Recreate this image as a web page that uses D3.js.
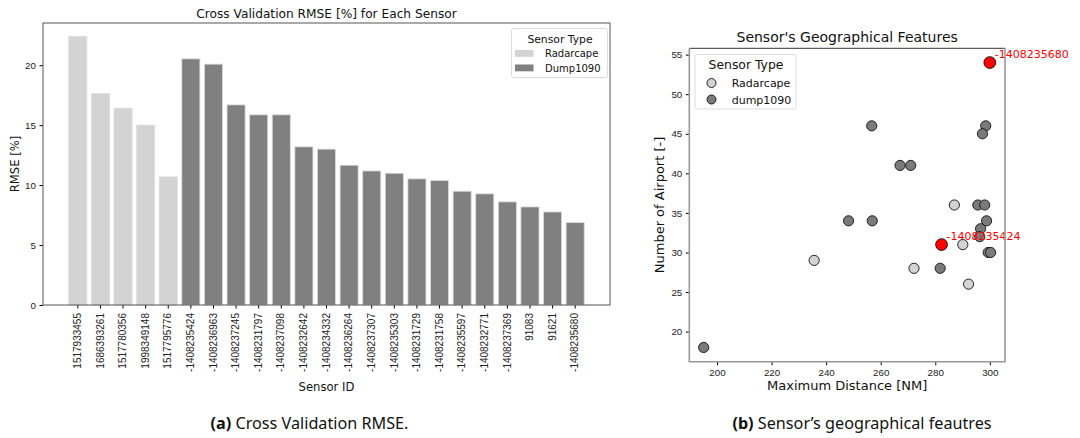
<!DOCTYPE html>
<html>
<head>
<meta charset="utf-8">
<script src="https://cdn.jsdelivr.net/npm/d3@7.9.0/dist/d3.min.js"></script>
<style>
  body { margin: 0; background: #fff; }
  svg { display: block; font-family: "DejaVu Sans", sans-serif; }
  .caption { font-family: "Noto Sans", sans-serif; }
</style>
</head>
<body>
<svg id="fig" width="1080" height="438"></svg>
<script>
// ---- bar chart data ----
const sensorIds = ['1517933455', '1686393261', '1517780356', '1998349148', '1517795776',
  '-1408235424', '-1408236963', '-1408237245', '-1408231797', '-1408237098', '-1408232642',
  '-1408234332', '-1408236264', '-1408237307', '-1408235303', '-1408231729', '-1408231758',
  '-1408235597', '-1408232771', '-1408237369', '91083', '91621', '-1408235680'];
const rmse = [22.4, 17.64, 16.42, 15.0, 10.68, 20.53, 20.09, 16.69, 15.86, 15.86, 13.19,
  13.0, 11.66, 11.18, 10.99, 10.52, 10.38, 9.49, 9.27, 8.6, 8.18, 7.76, 6.87];
const barType = ['Radarcape', 'Radarcape', 'Radarcape', 'Radarcape', 'Radarcape',
  'Dump1090', 'Dump1090', 'Dump1090', 'Dump1090', 'Dump1090', 'Dump1090', 'Dump1090',
  'Dump1090', 'Dump1090', 'Dump1090', 'Dump1090', 'Dump1090', 'Dump1090', 'Dump1090',
  'Dump1090', 'Dump1090', 'Dump1090', 'Dump1090'];
const rmseTicks = [0, 5, 10, 15, 20];

// ---- scatter data ----
const maxDistance = [300.0, 256.7, 298.5, 297.3, 267.1, 271.0, 295.6, 298.1, 248.2, 256.9,
  298.8, 296.6, 296.3, 282.3, 299.4, 300.3, 281.8, 195.1,
  287.0, 290.1, 235.6, 272.2, 292.2];
const numAirports = [54, 46, 46, 45, 41, 41, 36, 36, 34, 34, 34, 33, 32, 31, 30, 30, 28, 18,
  36, 31, 29, 28, 26];
const pointType = ['dump1090', 'dump1090', 'dump1090', 'dump1090', 'dump1090', 'dump1090',
  'dump1090', 'dump1090', 'dump1090', 'dump1090', 'dump1090', 'dump1090', 'dump1090',
  'dump1090', 'dump1090', 'dump1090', 'dump1090', 'dump1090',
  'Radarcape', 'Radarcape', 'Radarcape', 'Radarcape', 'Radarcape'];
const pointLabel = ['-1408235680', '', '', '', '', '', '', '', '', '', '', '', '',
  '-1408235424', '', '', '', '', '', '', '', '', ''];
const distTicks = [200, 220, 240, 260, 280, 300];
const airportTicks = [20, 25, 30, 35, 40, 45, 50, 55];

const light = '#d3d3d3', dark = '#808080';
const svg = d3.select('#fig');

// ================= (a) bar chart =================
{
  const left = 43, right = 610, top = 23, bottom = 305;
  const x = d3.scaleBand().domain(sensorIds).range([left, right])
    .paddingInner(0.2).paddingOuter(1.14);
  const y = d3.scaleLinear().domain([0, d3.max(rmse) * 1.05]).range([bottom, top]);
  const g = svg.append('g');

  g.selectAll('rect.bar')
    .data(sensorIds)
    .join('rect')
    .attr('class', 'bar')
    .attr('x', d => x(d))
    .attr('width', x.bandwidth())
    .attr('y', (d, i) => y(rmse[i]))
    .attr('height', (d, i) => y(0) - y(rmse[i]))
    .attr('fill', (d, i) => barType[i] === 'Radarcape' ? light : dark)
    .attr('stroke', '#dcdcdc')
    .attr('stroke-width', 0.8);

  g.append('g')
    .attr('transform', `translate(0,${bottom})`)
    .call(d3.axisBottom(x).tickSize(3.5).tickPadding(3).tickSizeOuter(0))
    .call(a => a.select('.domain').remove())
    .selectAll('text')
    .attr('font-size', 10)
    .attr('fill', '#222')
    .attr('transform', 'rotate(-90)')
    .attr('text-anchor', 'end')
    .attr('x', -8)
    .attr('y', 0)
    .attr('dy', '0.32em');

  g.append('g')
    .attr('transform', `translate(${left},0)`)
    .call(d3.axisLeft(y).tickValues(rmseTicks).tickSize(3.5).tickPadding(3.5))
    .call(a => a.select('.domain').remove())
    .selectAll('text').attr('font-size', 9.8).attr('fill', '#222');

  g.append('rect')
    .attr('x', left).attr('y', top)
    .attr('width', right - left).attr('height', bottom - top)
    .attr('fill', 'none').attr('stroke', '#555').attr('stroke-width', 1);

  g.append('text')
    .attr('x', (left + right) / 2).attr('y', 18)
    .attr('text-anchor', 'middle').attr('font-size', 12.2).attr('fill', '#111')
    .text('Cross Validation RMSE [%] for Each Sensor');
  g.append('text')
    .attr('x', 326.5).attr('y', 391)
    .attr('text-anchor', 'middle').attr('font-size', 11.6).attr('fill', '#111')
    .text('Sensor ID');
  g.append('text')
    .attr('transform', `translate(18.5,${(top + bottom) / 2}) rotate(-90)`)
    .attr('text-anchor', 'middle').attr('font-size', 11.6).attr('fill', '#111')
    .text('RMSE [%]');

  // legend
  const lg = g.append('g');
  lg.append('rect')
    .attr('x', 511.5).attr('y', 28.5).attr('width', 96).attr('height', 49).attr('rx', 2)
    .attr('fill', '#fff').attr('stroke', '#ddd');
  lg.append('text')
    .attr('x', 560).attr('y', 43).attr('text-anchor', 'middle')
    .attr('font-size', 10.8).attr('fill', '#111').text('Sensor Type');
  ['Radarcape', 'Dump1090'].forEach((t, i) => {
    lg.append('rect')
      .attr('x', 515).attr('y', 50 + i * 14.5).attr('width', 18.5).attr('height', 6.8)
      .attr('fill', i === 0 ? light : dark);
    lg.append('text')
      .attr('x', 545).attr('y', 57 + i * 14.5)
      .attr('font-size', 10).attr('fill', '#111').text(t);
  });
}

// ================= (b) scatter =================
{
  const left = 689.3, right = 1005, top = 48.3, bottom = 361.7;
  const [xmin, xmax] = d3.extent(maxDistance);
  const [ymin, ymax] = d3.extent(numAirports);
  const mx = (xmax - xmin) * 0.05, my = (ymax - ymin) * 0.05;
  const x = d3.scaleLinear().domain([xmin - mx, xmax + mx]).range([left, right]);
  const y = d3.scaleLinear().domain([ymin - my, ymax + my]).range([bottom, top]);
  const g = svg.append('g');

  g.append('g')
    .attr('transform', `translate(0,${bottom})`)
    .call(d3.axisBottom(x).tickValues(distTicks).tickSize(3.5).tickPadding(3.5))
    .call(a => a.select('.domain').remove())
    .selectAll('text').attr('font-size', 9.8).attr('fill', '#222');
  g.append('g')
    .attr('transform', `translate(${left},0)`)
    .call(d3.axisLeft(y).tickValues(airportTicks).tickSize(3.5).tickPadding(3.5))
    .call(a => a.select('.domain').remove())
    .selectAll('text').attr('font-size', 9.8).attr('fill', '#222');

  const idx = d3.range(maxDistance.length);
  const order = idx.filter(i => !pointLabel[i]).concat(idx.filter(i => pointLabel[i]));
  g.selectAll('circle.pt')
    .data(order)
    .join('circle')
    .attr('class', 'pt')
    .attr('cx', i => x(maxDistance[i]))
    .attr('cy', i => y(numAirports[i]))
    .attr('r', i => pointLabel[i] ? 5.9 : 5.1)
    .attr('fill', i => pointLabel[i] ? '#ff0000' : (pointType[i] === 'Radarcape' ? light : '#7a7a7a'))
    .attr('stroke', '#111')
    .attr('stroke-width', 0.9);

  g.selectAll('text.lbl')
    .data(idx.filter(i => pointLabel[i]))
    .join('text')
    .attr('class', 'lbl')
    .attr('x', i => x(maxDistance[i]) + 5)
    .attr('y', i => y(numAirports[i]) - 4.3)
    .attr('font-size', 11).attr('fill', '#ff0000')
    .text(i => pointLabel[i]);

  // spines
  g.append('line').attr('x1', left).attr('x2', right).attr('y1', top).attr('y2', top)
    .attr('stroke', '#333').attr('stroke-width', 1);
  g.append('path')
    .attr('d', `M${right},${top}V${bottom}H${left}V${top}`)
    .attr('fill', 'none').attr('stroke', '#999').attr('stroke-width', 1.6);

  g.append('text')
    .attr('x', (left + right) / 2).attr('y', 41.5)
    .attr('text-anchor', 'middle').attr('font-size', 14).attr('fill', '#111')
    .text("Sensor's Geographical Features");
  g.append('text')
    .attr('x', (left + right) / 2).attr('y', 390)
    .attr('text-anchor', 'middle').attr('font-size', 13).attr('fill', '#111')
    .text('Maximum Distance [NM]');
  g.append('text')
    .attr('transform', `translate(663.5,${(top + bottom) / 2}) rotate(-90)`)
    .attr('text-anchor', 'middle').attr('font-size', 13).attr('fill', '#111')
    .text('Number of Airport [-]');

  // legend
  const lg = g.append('g');
  lg.append('rect')
    .attr('x', 695).attr('y', 54.5).attr('width', 101).attr('height', 54.5).attr('rx', 2)
    .attr('fill', '#fff').attr('stroke', '#ddd');
  lg.append('text')
    .attr('x', 746).attr('y', 69).attr('text-anchor', 'middle')
    .attr('font-size', 12.4).attr('fill', '#111').text('Sensor Type');
  ['Radarcape', 'dump1090'].forEach((t, i) => {
    lg.append('circle')
      .attr('cx', 711.5).attr('cy', 83 + i * 16.5).attr('r', 4.5)
      .attr('fill', i === 0 ? light : '#7a7a7a').attr('stroke', '#111').attr('stroke-width', 0.9);
    lg.append('text')
      .attr('x', 731.7).attr('y', 87 + i * 16.5)
      .attr('font-size', 11).attr('fill', '#111').text(t);
  });
}

// ================= captions =================
const cap = [
  { tag: '(a)', text: ' Cross Validation RMSE.', x: 309.5 },
  { tag: '(b)', text: ' Sensor’s geographical feautres', x: 862 }
];
cap.forEach(c => {
  const t = svg.append('text')
    .attr('class', 'caption')
    .attr('x', c.x).attr('y', 429)
    .attr('text-anchor', 'middle').attr('font-size', 16.2).attr('fill', '#111');
  t.append('tspan').attr('font-weight', 'bold').text(c.tag);
  t.append('tspan').text(c.text);
});
</script>
</body>
</html>
